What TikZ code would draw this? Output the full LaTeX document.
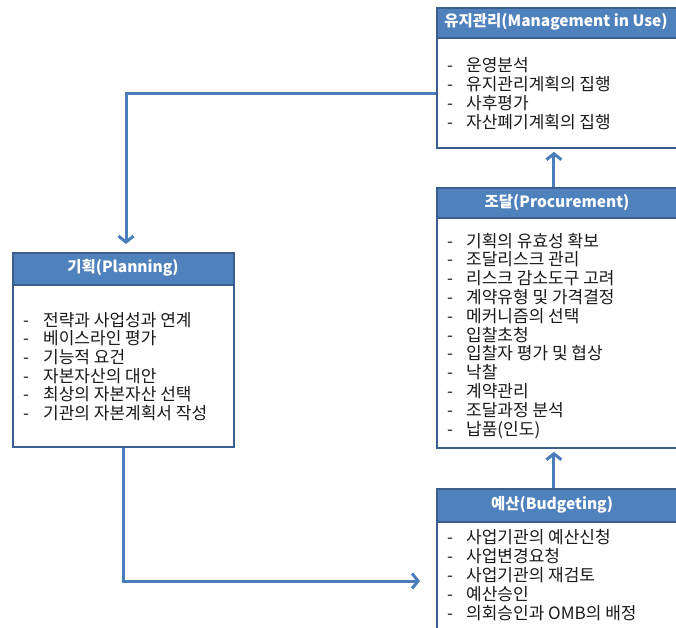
\documentclass[tikz,border=0pt]{standalone}
\usepackage{fontspec}
\setmainfont{Noto Sans CJK KR}
\usetikzlibrary{arrows.meta}
\definecolor{hdr}{HTML}{4F81BD}
\definecolor{brd}{HTML}{3A5F8E}
\definecolor{arr}{HTML}{4A7EBB}
\definecolor{txt}{HTML}{1A1A1A}
\tikzset{
  boxframe/.style={draw=brd, line width=1.8pt, fill=white, anchor=north west, inner sep=0pt},
  headbox/.style={draw=brd, line width=1.8pt, fill=hdr, anchor=north west, inner sep=0pt},
  headtext/.style={inner sep=0pt, text=white, font=\bfseries\fontsize{15.5}{18}\selectfont},
  item/.style={anchor=base west, inner sep=0pt, text=txt, font=\fontsize{17}{19}\selectfont},
  flow/.style={draw=arr, line width=3pt, -{Straight Barb[length=6pt,width=15pt,line width=3pt]}}
}
\begin{document}
\begin{tikzpicture}[x=1pt,y=-1pt]
\useasboundingbox (0,0) rectangle (676,627);
\clip (0,0) rectangle (676,627);

% Management in Use
\node[boxframe, minimum width=242pt, minimum height=140pt] (use) at (436,7) {};
\node[headbox, minimum width=242pt, minimum height=30pt] (useh) at (use.north west) {};
\node[headtext] (uset) at (556,22) {유지관리(Management in Use)};
\foreach \t [count=\i] in {운영분석, 유지관리계획의 집행, 사후평가, 자산폐기계획의 집행}{
  \node[item] (used\i) at (447,{65+19*(\i-1)+6}) {-};
  \node[item] (usei\i) at (466,{65+19*(\i-1)+6}) {\t};
}

% Procurement
\node[boxframe, minimum width=242pt, minimum height=260pt] (proc) at (436,187) {};
\node[headbox, minimum width=242pt, minimum height=30pt] (proch) at (proc.north west) {};
\node[headtext] (proct) at (557,203) {조달(Procurement)};
\foreach \t [count=\i] in {기획의 유효성 확보, 조달리스크 관리, 리스크 감소도구 고려, 계약유형 및 가격결정, 메커니즘의 선택, 입찰초청, 입찰자 평가 및 협상, 낙찰, 계약관리, 조달과정 분석, 납품(인도)}{
  \node[item] (procd\i) at (447,{241+18.8*(\i-1)+6}) {-};
  \node[item] (proci\i) at (466,{241+18.8*(\i-1)+6}) {\t};
}

% Planning
\node[boxframe, minimum width=221pt, minimum height=194pt] (plan) at (12,252) {};
\node[headbox, minimum width=221pt, minimum height=32pt] (planh) at (plan.north west) {};
\node[headtext] (plant) at (123,268) {기획(Planning)};
\foreach \t [count=\i] in {전략과 사업성과 연계, 베이스라인 평가, 기능적 요건, 자본자산의 대안, 최상의 자본자산 선택, 기관의 자본계획서 작성}{
  \node[item] (pland\i) at (23,{320+18.7*(\i-1)+6}) {-};
  \node[item] (plani\i) at (43,{320+18.7*(\i-1)+6}) {\t};
}

% Budgeting
\node[boxframe, minimum width=242pt, minimum height=160pt] (bud) at (436,488) {};
\node[headbox, minimum width=242pt, minimum height=33pt] (budh) at (bud.north west) {};
\node[headtext] (budt) at (552,505) {예산(Budgeting)};
\foreach \t [count=\i] in {사업기관의 예산신청, 사업변경요청, 사업기관의 재검토, 예산승인, 의회승인과 OMB의 배정}{
  \node[item] (budd\i) at (447,{537+19*(\i-1)+6}) {-};
  \node[item] (budi\i) at (466,{537+19*(\i-1)+6}) {\t};
}

% connectors
\coordinate (plantop) at (126,252);
\coordinate (budin) at (436,581);
\draw[flow, shorten >=8pt] ([yshift=-16pt]use.west) -| (plantop);
\draw[flow, shorten >=3pt] ([xshift=-4pt]proc.north) -- ([xshift=-4pt]use.south);
\draw[flow, shorten >=3pt] ([xshift=-4pt]bud.north) -- ([xshift=-4pt]proc.south);
\draw[flow, shorten >=16pt] (plan.south) |- (budin);
\end{tikzpicture}
\end{document}
